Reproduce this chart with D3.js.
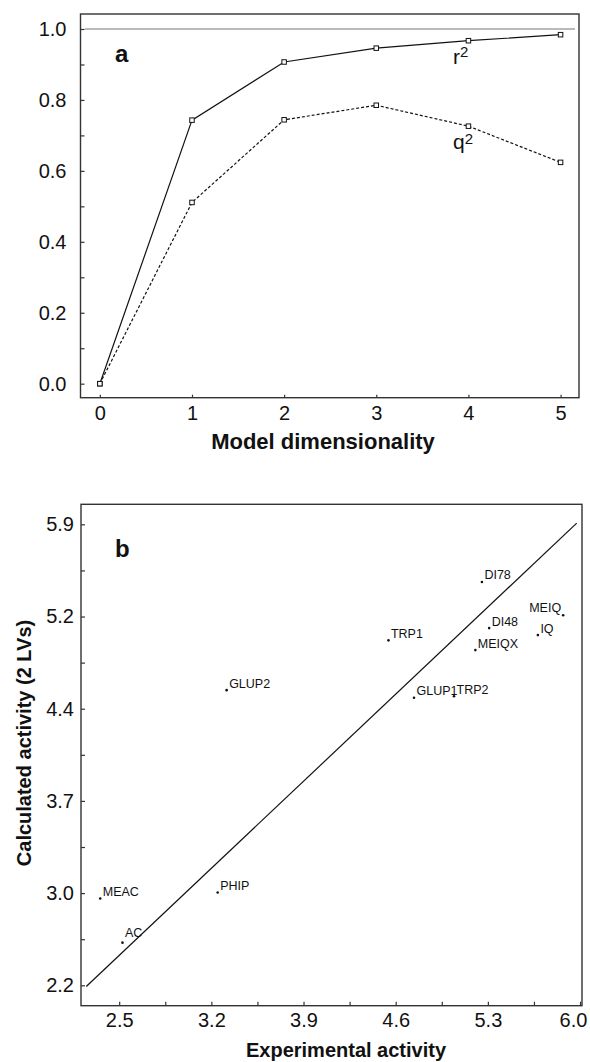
<!DOCTYPE html>
<html>
<head>
<meta charset="utf-8">
<script src="https://cdn.jsdelivr.net/npm/d3@7"></script>
<style>
  html, body { margin: 0; padding: 0; background: #fff; }
  svg { display: block; }
  text { font-family: "Liberation Sans", Arial, Helvetica, sans-serif; fill: #111; }
</style>
</head>
<body>
<svg id="chart" width="590" height="1062"></svg>
<script>
// ---------- Panel a data ----------
const dims = [0, 1, 2, 3, 4, 5];
const r2 = [0.0, 0.743, 0.907, 0.946, 0.967, 0.984];
const q2 = [0.0, 0.511, 0.744, 0.785, 0.726, 0.624];
const aYTicks = [0, 0.2, 0.4, 0.6, 0.8, 1.0];
const aYTickLabels = ["0.0", "0.2", "0.4", "0.6", "0.8", "1.0"];
const aYMinor = [0.1, 0.3, 0.5, 0.7, 0.9];
const aXTickLabels = ["0", "1", "2", "3", "4", "5"];

// ---------- Panel b data ----------
const compounds = ["MEAC", "AC", "PHIP", "GLUP2", "TRP1", "GLUP1", "TRP2", "DI78", "DI48", "MEIQX", "IQ", "MEIQ"];
const experimental = [2.356, 2.525, 3.248, 3.316, 4.545, 4.739, 5.043, 5.255, 5.31, 5.205, 5.68, 5.872];
const calculated = [2.906, 2.547, 2.955, 4.601, 5.006, 4.539, 4.552, 5.481, 5.106, 4.927, 5.049, 5.21];
const fitX = [2.25, 5.975];
const fitY = [2.19, 5.96];
const bXTicks = [2.5, 3.2, 3.9, 4.6, 5.3, 6.0];
const bXTickLabels = ["2.5", "3.2", "3.9", "4.6", "5.3", "6.0"];
const bXMinor = [2.85, 3.55, 4.25, 4.95, 5.65];
const bYTicks = [2.2, 2.95, 3.7, 4.45, 5.2, 5.95];
const bYTickLabels = ["2.2", "3.0", "3.7", "4.4", "5.2", "5.9"];
const bYMinor = [2.575, 3.325, 4.075, 4.825, 5.575];

// label placement tweaks (layout only)
const labelPlace = { "AC": { dx: 2.5, dy: -6 }, "MEIQ": { dx: -2, dy: -3, anchor: "end" } };

const svg = d3.select("#chart");
const frameColor = "#333";

function frame(g, x0, y0, x1, y1) {
  g.append("rect").attr("x", x0).attr("y", y0).attr("width", x1 - x0).attr("height", y1 - y0)
    .attr("fill", "none").attr("stroke", frameColor).attr("stroke-width", 1.4);
}
function styleAxis(sel, size) {
  sel.select(".domain").remove();
  sel.selectAll(".tick line").attr("stroke", frameColor).attr("stroke-width", 1.2);
  sel.selectAll(".tick text").attr("font-size", size).attr("fill", "#111")
    .attr("font-family", '"Liberation Sans", Arial, sans-serif');
}

// ================= Panel a =================
{
  const L = 80.5, R = 579, T = 14, B = 397.7;
  const x = d3.scaleLinear().domain([-0.21, 5.2]).range([L, R]);
  const y = d3.scaleLinear().domain([-0.0395, 1.0423]).range([B, T]);
  const g = svg.append("g");

  // reference line at 1.0
  g.append("line").attr("x1", L + 4.5).attr("x2", R - 4).attr("y1", y(1)).attr("y2", y(1))
    .attr("stroke", "#777").attr("stroke-width", 1.2);

  frame(g, L, T, R, B);

  const yAx = g.append("g").attr("transform", `translate(${L},0)`)
    .call(d3.axisLeft(y).tickValues(aYTicks).tickSize(-4).tickPadding(14)
      .tickFormat((d, i) => aYTickLabels[i]));
  styleAxis(yAx, "20px");
  const yMin = g.append("g").attr("transform", `translate(${L},0)`)
    .call(d3.axisLeft(y).tickValues(aYMinor).tickSize(-4).tickFormat(""));
  styleAxis(yMin, "20px");

  const xAx = g.append("g").attr("transform", `translate(0,${B})`)
    .call(d3.axisBottom(x).tickValues(dims).tickSize(-3).tickPadding(8)
      .tickFormat((d, i) => aXTickLabels[i]));
  styleAxis(xAx, "20px");

  g.append("text").attr("x", 323).attr("y", 448.5).attr("text-anchor", "middle")
    .attr("font-size", "22px").attr("font-weight", "bold").text("Model dimensionality");

  g.append("text").attr("x", 115).attr("y", 61.7).attr("font-size", "24px")
    .attr("font-weight", "bold").text("a");

  const line = d3.line().x((d, i) => x(dims[i])).y(d => y(d));
  g.append("path").datum(r2).attr("d", line).attr("fill", "none")
    .attr("stroke", "#111").attr("stroke-width", 1.2);
  g.append("path").datum(q2).attr("d", line).attr("fill", "none")
    .attr("stroke", "#111").attr("stroke-width", 1.2).attr("stroke-dasharray", "3,2");

  const s = 4.5;
  [r2, q2].forEach(series => {
    g.selectAll(null).data(series).enter().append("rect")
      .attr("x", (d, i) => x(dims[i]) - s / 2).attr("y", d => y(d) - s / 2)
      .attr("width", s).attr("height", s)
      .attr("fill", "#fff").attr("stroke", "#111").attr("stroke-width", 1);
  });

  const r2t = g.append("text").attr("x", 453).attr("y", 63.5).attr("font-size", "21px");
  r2t.append("tspan").text("r");
  r2t.append("tspan").attr("font-size", "15px").attr("dy", -7).text("2");
  const q2t = g.append("text").attr("x", 453).attr("y", 148.5).attr("font-size", "21px");
  q2t.append("tspan").text("q");
  q2t.append("tspan").attr("font-size", "15px").attr("dy", -5).text("2");
}

// ================= Panel b =================
{
  const L = 81, R = 582, T = 504.3, B = 1005.7;
  const x = d3.scaleLinear().domain([2.21, 6.015]).range([L, R]);
  const y = d3.scaleLinear().domain([2.034, 6.113]).range([B, T]);
  const g = svg.append("g");

  frame(g, L, T, R, B);

  const yAx = g.append("g").attr("transform", `translate(${L},0)`)
    .call(d3.axisLeft(y).tickValues(bYTicks).tickSize(-4).tickPadding(7)
      .tickFormat((d, i) => bYTickLabels[i]));
  styleAxis(yAx, "20px");
  const yMin = g.append("g").attr("transform", `translate(${L},0)`)
    .call(d3.axisLeft(y).tickValues(bYMinor).tickSize(-4).tickFormat(""));
  styleAxis(yMin, "20px");

  const xAx = g.append("g").attr("transform", `translate(0,${B})`)
    .call(d3.axisBottom(x).tickValues(bXTicks).tickSize(-4).tickPadding(7)
      .tickFormat((d, i) => bXTickLabels[i]));
  styleAxis(xAx, "20px");
  // keep the last label inside the page, as in the reference
  xAx.selectAll(".tick text").filter((d, i) => i === bXTicks.length - 1).attr("dx", -7);
  const xMin = g.append("g").attr("transform", `translate(0,${B})`)
    .call(d3.axisBottom(x).tickValues(bXMinor).tickSize(-4).tickFormat(""));
  styleAxis(xMin, "20px");

  g.append("text").attr("x", 346).attr("y", 1056.5).attr("text-anchor", "middle")
    .attr("font-size", "20px").attr("font-weight", "bold").text("Experimental activity");
  g.append("text").attr("transform", "translate(31,743) rotate(-90)").attr("text-anchor", "middle")
    .attr("font-size", "20px").attr("font-weight", "bold").text("Calculated activity (2 LVs)");

  g.append("text").attr("x", 115).attr("y", 557.3).attr("font-size", "24px")
    .attr("font-weight", "bold").text("b");

  g.append("line").attr("x1", x(fitX[0])).attr("y1", y(fitY[0]))
    .attr("x2", x(fitX[1])).attr("y2", y(fitY[1]))
    .attr("stroke", "#111").attr("stroke-width", 1.2);

  g.selectAll(null).data(compounds).enter().append("circle")
    .attr("cx", (d, i) => x(experimental[i])).attr("cy", (d, i) => y(calculated[i]))
    .attr("r", 1.3).attr("fill", "#111");

  g.selectAll(null).data(compounds).enter().append("text")
    .attr("x", (d, i) => x(experimental[i]) + (labelPlace[d] ? labelPlace[d].dx : 2.5))
    .attr("y", (d, i) => y(calculated[i]) + (labelPlace[d] ? labelPlace[d].dy : -2.5))
    .attr("text-anchor", d => (labelPlace[d] && labelPlace[d].anchor) || "start")
    .attr("font-size", "12.5px").text(d => d);
}
</script>
</body>
</html>
